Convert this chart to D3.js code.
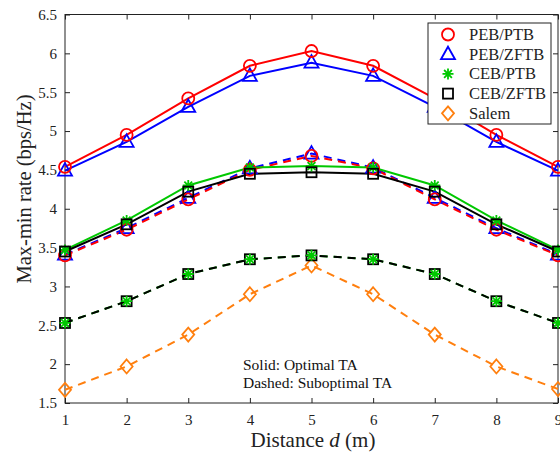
<!DOCTYPE html>
<html><head><meta charset="utf-8">
<script src="https://cdn.jsdelivr.net/npm/d3@7"></script>
<style>body{margin:0;background:#fff}svg{display:block;font-family:"Liberation Serif","Times New Roman",serif}</style>
</head><body><div id="chart"></div>
<script>
const distances = [1,2,3,4,5,6,7,8,9];
const yTicks = [1.5,2,2.5,3,3.5,4,4.5,5,5.5,6,6.5];
const pebPtbOpt   = [4.54,4.95,5.42,5.84,6.03,5.84,5.42,4.95,4.54];
const pebZftbOpt  = [4.49,4.86,5.31,5.71,5.88,5.71,5.31,4.86,4.49];
const cebPtbOpt   = [3.47,3.85,4.30,4.53,4.55,4.53,4.30,3.85,3.47];
const cebZftbOpt  = [3.45,3.80,4.22,4.45,4.47,4.45,4.22,3.80,3.45];
const pebPtbSub   = [3.40,3.73,4.12,4.50,4.68,4.52,4.12,3.73,3.40];
const pebZftbSub  = [3.41,3.75,4.14,4.52,4.71,4.53,4.14,3.75,3.41];
const cebPtbSub   = [2.53,2.81,3.16,3.35,3.40,3.35,3.16,2.81,2.53];
const cebZftbSub  = [2.53,2.81,3.16,3.35,3.40,3.35,3.16,2.81,2.53];
const salem       = [1.67,1.97,2.38,2.90,3.27,2.90,2.38,1.97,1.68];
const legendLabels = ["PEB/PTB","PEB/ZFTB","CEB/PTB","CEB/ZFTB","Salem"];

const W=560,H=453, L=65, R=558, T=14.5, B=403;
const svg=d3.select("#chart").append("svg").attr("width",W).attr("height",H);
const x=d3.scaleLinear().domain([1,9]).range([L,R]);
const y=d3.scaleLinear().domain([1.5,6.5]).range([B,T]);

const RED="#ff0000",BLUE="#0000ff",GREEN="#00c800",BLACK="#000000",ORANGE="#ff7f0e";

// axes
const axG=svg.append("g");
const fmt=d=>String(d);
axG.append("g").attr("transform",`translate(0,${B})`).call(d3.axisBottom(x).tickValues(distances).tickSizeInner(-5).tickSizeOuter(0).tickPadding(11).tickFormat(fmt));
axG.append("g").attr("transform",`translate(0,${T})`).call(d3.axisTop(x).tickValues(distances).tickSizeInner(-5).tickSizeOuter(0).tickFormat(""));
axG.append("g").attr("transform",`translate(${L},0)`).call(d3.axisLeft(y).tickValues(yTicks).tickSizeInner(-5).tickSizeOuter(0).tickPadding(8).tickFormat(fmt));
axG.append("g").attr("transform",`translate(${R},0)`).call(d3.axisRight(y).tickValues(yTicks).tickSizeInner(-5).tickSizeOuter(0).tickFormat(""));
axG.selectAll(".domain").remove();
axG.selectAll("line").attr("stroke","#222");
axG.selectAll("text").attr("font-family","Liberation Serif").attr("font-size",15).attr("fill","#222");
svg.append("rect").attr("x",L).attr("y",T).attr("width",R-L).attr("height",B-T).attr("fill","none").attr("stroke","#222").attr("stroke-width",1);

// marker shapes
function drawMarker(g,type,cx,cy,color){
  if(type==="circle") g.append("circle").attr("cx",cx).attr("cy",cy).attr("r",6).attr("fill","none").attr("stroke",color).attr("stroke-width",1.8);
  else if(type==="triangle") g.append("path").attr("d",`M${cx},${cy-7.5}L${cx+7},${cy+5}L${cx-7},${cy+5}Z`).attr("fill","none").attr("stroke",color).attr("stroke-width",1.8);
  else if(type==="square") g.append("rect").attr("x",cx-5).attr("y",cy-5).attr("width",10).attr("height",10).attr("fill","none").attr("stroke",color).attr("stroke-width",1.8);
  else if(type==="diamond") g.append("path").attr("d",`M${cx},${cy-7}L${cx+6},${cy}L${cx},${cy+7}L${cx-6},${cy}Z`).attr("fill","none").attr("stroke",color).attr("stroke-width",1.8);
  else if(type==="star"){
    const r=5.5, p=[];
    for(let k=0;k<4;k++){const a=k*Math.PI/4;p.push(`M${cx-r*Math.cos(a)},${cy-r*Math.sin(a)}L${cx+r*Math.cos(a)},${cy+r*Math.sin(a)}`);}
    g.append("path").attr("d",p.join("")).attr("stroke",color).attr("stroke-width",1.8).attr("fill","none");
  }
}
const line=d3.line().x((d,i)=>x(distances[i])).y(d=>y(d));
function series(vals,color,dashed){
  svg.append("path").datum(vals).attr("d",line).attr("fill","none").attr("stroke",color).attr("stroke-width",2)
    .attr("stroke-dasharray",dashed?"8,6":null);
}
function markers(vals,color,marker){
  const g=svg.append("g");
  vals.forEach((v,i)=>drawMarker(g,marker,x(distances[i]),y(v),color));
}
// lines
series(salem,ORANGE,true);
series(cebPtbSub,GREEN,true);
series(cebZftbSub,BLACK,true);
series(pebZftbSub,BLUE,true);
series(pebPtbSub,RED,true);
series(cebPtbOpt,GREEN,false);
series(cebZftbOpt,BLACK,false);
series(pebZftbOpt,BLUE,false);
series(pebPtbOpt,RED,false);
// markers
markers(salem,ORANGE,"diamond");
markers(cebZftbSub,BLACK,"square");
markers(cebPtbSub,GREEN,"star");
markers(pebZftbSub,BLUE,"triangle");
markers(pebPtbSub,RED,"circle");
markers(cebPtbOpt,GREEN,"star");
markers(cebZftbOpt,BLACK,"square");
markers(pebZftbOpt,BLUE,"triangle");
markers(pebPtbOpt,RED,"circle");

// legend
const lg=svg.append("g");
lg.append("rect").attr("x",428).attr("y",23).attr("width",123).attr("height",101).attr("fill","#fff").attr("stroke","#222").attr("stroke-width",1);
const legColors=[RED,BLUE,GREEN,BLACK,ORANGE], legMarks=["circle","triangle","star","square","diamond"];
legendLabels.forEach((lab,i)=>{
  const cy=34.5+i*19.7;
  drawMarker(lg,legMarks[i],448,cy,legColors[i]);
  lg.append("text").attr("x",469).attr("y",cy+5.5).attr("font-size",16.5).attr("fill","#222").text(lab);
});

// annotations
svg.append("text").attr("x",243).attr("y",370).attr("font-size",15.5).attr("fill","#111").text("Solid: Optimal TA");
svg.append("text").attr("x",243).attr("y",388).attr("font-size",15.5).attr("fill","#111").text("Dashed: Suboptimal TA");

// axis titles
const xt=svg.append("text").attr("x",313).attr("y",447).attr("text-anchor","middle").attr("font-size",21).attr("fill","#222");
xt.append("tspan").text("Distance ");
xt.append("tspan").attr("font-style","italic").text("d");
xt.append("tspan").text(" (m)");
svg.append("text").attr("transform",`translate(31,189) rotate(-90)`).attr("text-anchor","middle").attr("font-size",20.5).attr("fill","#222").text("Max-min rate (bps/Hz)");
</script></body></html>
